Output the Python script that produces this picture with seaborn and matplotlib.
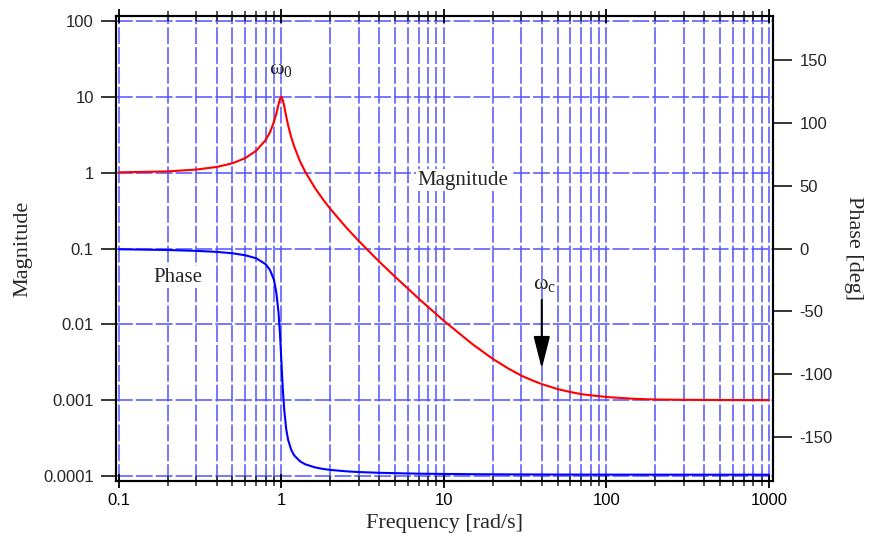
import seaborn as sns
import matplotlib.pyplot as plt
import matplotlib.ticker as mticker
import pandas as pd

# values
freq = [0.1, 0.2, 0.3, 0.4, 0.5, 0.6, 0.7, 0.8, 0.85, 0.9, 0.93, 0.96, 0.98, 1.0,
        1.02, 1.04, 1.07, 1.1, 1.15, 1.2, 1.3, 1.4, 1.6, 1.8, 2, 2.5, 3, 4, 5, 7,
        10, 15, 20, 25, 30, 35, 40, 50, 60, 70, 80, 100, 150, 200, 300, 500, 1000]
magnitude = [1.01, 1.04, 1.10, 1.19, 1.33, 1.56, 1.95, 2.7, 3.4, 4.7, 6.0, 8.0, 9.4, 10.0,
             9.1, 7.6, 5.55, 4.2, 2.92, 2.2, 1.42, 1.03, 0.64, 0.445, 0.333, 0.19, 0.125,
             0.067, 0.0425, 0.0218, 0.0111, 0.00546, 0.0035, 0.0026, 0.0021, 0.00182,
             0.00163, 0.0014, 0.00128, 0.0012, 0.00116, 0.0011, 0.00104, 0.00102,
             0.00101, 0.001004, 0.001]
phase = [-0.6, -1.2, -1.9, -2.7, -3.8, -5.4, -7.8, -12.5, -17, -25, -35, -51, -68, -90,
         -112, -128, -143.6, -152.4, -160.4, -164.7, -169.3, -171.7, -174.1, -175.4,
         -176.2, -177.3, -177.9, -178.5, -178.8, -179.2, -179.4, -179.6, -179.7, -179.75,
         -179.8, -179.82, -179.85, -179.9, -179.91, -179.92, -179.93, -179.95, -179.97,
         -179.98, -179.99, -180, -180]

mag_ticks = [1e-4, 1e-3, 1e-2, 1e-1, 1, 10, 100]
mag_labels = ['0.0001', '0.001', '0.01', '0.1', '1', '10', '100']
freq_ticks = [0.1, 1, 10, 100, 1000]
freq_labels = ['0.1', '1', '10', '100', '1000']
phase_ticks = [-150, -100, -50, 0, 50, 100, 150]

df = pd.DataFrame({'Frequency': freq, 'Magnitude': magnitude, 'Phase': phase})

sns.set_theme(style='white')
plt.rcParams['font.family'] = ['Liberation Sans', 'DejaVu Sans']
plt.rcParams['mathtext.fontset'] = 'custom'
plt.rcParams['mathtext.rm'] = 'Liberation Serif'
serif = ['Liberation Serif', 'DejaVu Serif']

fig = plt.figure(figsize=(8.72, 5.47), dpi=100)
ax = fig.add_axes([0.133, 0.1207, 0.7535, 0.85])
ax2 = ax.twinx()

grid_col = '#5252ff'
ax.set_xscale('log')
ax.set_yscale('log')
ax.set_xlim(10 ** -1.018, 10 ** 3.025)
ax.set_ylim(10 ** -4.066, 10 ** 2.066)
ax2.set_ylim(-185, 185)

# grid: horizontal at magnitude decades, vertical at every x tick
for y in mag_ticks:
    ax.axhline(y, color=grid_col, lw=1.1, dashes=(11, 2), zorder=0)
for dec in [0.1, 1, 10, 100]:
    for k in range(1, 10):
        ax.axvline(dec * k, color=grid_col, lw=1.1, dashes=(11, 2), zorder=0)
ax.axvline(1000, color=grid_col, lw=1.1, dashes=(11, 2), zorder=0)

sns.lineplot(data=df, x='Frequency', y='Magnitude', ax=ax, color='#ff0000', lw=1.5, zorder=3)
sns.lineplot(data=df, x='Frequency', y='Phase', ax=ax2, color='#0000ff', lw=1.5, zorder=3)

ax.set_xticks(freq_ticks)
ax.set_xticklabels(freq_labels)
ax.xaxis.set_minor_locator(mticker.LogLocator(base=10, subs=range(2, 10)))
ax.xaxis.set_minor_formatter(mticker.NullFormatter())
ax.set_yticks(mag_ticks)
ax.set_yticklabels(mag_labels)
ax.yaxis.set_minor_locator(mticker.NullLocator())
ax2.set_yticks(phase_ticks)
ax2.set_yticklabels([str(t) for t in phase_ticks])

ax.tick_params(axis='x', which='major', direction='inout', length=10, width=1.3,
               top=True, bottom=True, labelsize=12, pad=4, colors='black')
ax.tick_params(axis='x', which='minor', direction='inout', length=7, width=1.1,
               top=True, bottom=True)
ax.tick_params(axis='y', which='major', direction='out', length=11, width=1.3,
               labelsize=12, pad=5, left=True)
ax2.tick_params(axis='y', direction='out', length=14, width=1.3, labelsize=12, pad=5, right=True)

for a in (ax, ax2):
    for s in a.spines.values():
        s.set_color('black')
        s.set_linewidth(1.5)

ax.set_xlabel('Frequency [rad/s]', fontsize=16, family=serif, labelpad=4)
ax.set_ylabel('Magnitude', fontsize=16, family=serif, labelpad=8)
ax2.set_ylabel('Phase [deg]', fontsize=16, family=serif, rotation=-90, labelpad=22)

ax.text(1.0, 22, r'ω$_\mathrm{0}$', fontsize=16, family=serif, ha='center', va='center', zorder=5)
ax.text(13.1, 0.8, 'Magnitude', fontsize=15, family=serif, ha='center', va='center', zorder=5,
        bbox=dict(facecolor='white', edgecolor='none', pad=1))
ax.text(0.23, 0.042, 'Phase', fontsize=15, family=serif, ha='center', va='center', zorder=5,
        bbox=dict(facecolor='white', edgecolor='none', pad=1))
ax.text(41.5, 0.033, r'ω$_\mathrm{c}$', fontsize=16, family=serif, ha='center', va='center', zorder=5)
ax.annotate('', xy=(40, 0.0026), xytext=(40, 0.021), zorder=5,
            arrowprops=dict(arrowstyle='-|>,head_length=1.1,head_width=0.28',
                            color='black', lw=1.5, mutation_scale=18, shrinkA=0, shrinkB=0))

fig.savefig('out.png', dpi=100, facecolor='white')
plt.close(fig)
